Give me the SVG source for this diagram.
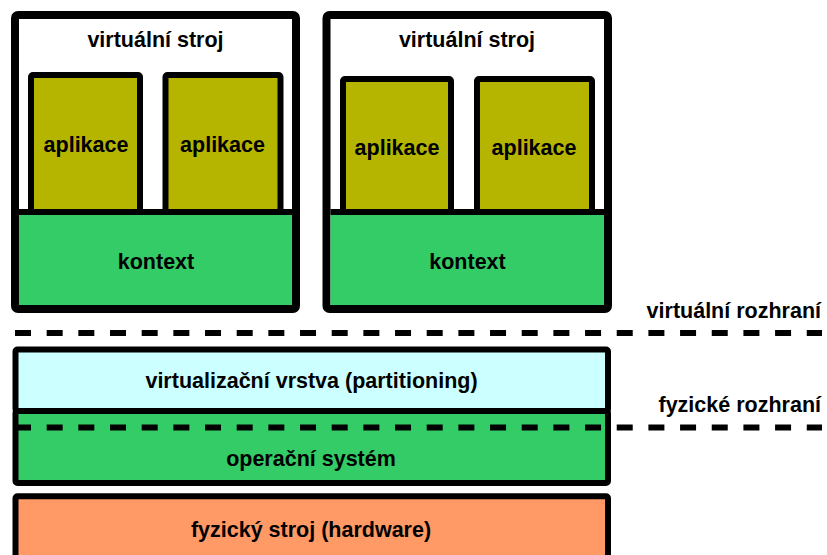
<svg xmlns="http://www.w3.org/2000/svg" width="827" height="555" viewBox="0 0 827 555">
  <style>
    text { font-family: "Liberation Sans", Arial, sans-serif; font-weight: bold; font-size: 21.5px; fill: #000; }
    .mid { text-anchor: middle; }
    .end { text-anchor: end; }
    .vm { fill: #fff; stroke: #000; stroke-width: 8; }
    .app { fill: #B5B500; stroke: #000; stroke-width: 6; }
    .ctx { fill: #33CC66; }
    .sep { stroke: #000; stroke-width: 6; }
    .layer { stroke: #000; stroke-width: 6; }
    .iface { stroke: #000; stroke-width: 6; stroke-dasharray: 16 15.67; fill: none; }
  </style>

  <!-- virtual machine 1 -->
  <g id="vm1">
    <rect class="vm" x="15" y="15" width="281" height="294" rx="3"/>
    <text class="mid" x="155.5" y="47">virtuální stroj</text>
    <g id="vm1-app1">
      <rect class="app" x="31" y="75" width="109" height="137" rx="2"/>
      <text class="mid" x="86" y="152">aplikace</text>
    </g>
    <g id="vm1-app2">
      <rect class="app" x="165.5" y="75" width="115" height="137" rx="2"/>
      <text class="mid" x="222.5" y="152">aplikace</text>
    </g>
    <g id="vm1-ctx">
      <rect class="ctx" x="19" y="212" width="273" height="93"/>
      <line class="sep" x1="19" y1="212" x2="292" y2="212"/>
      <text class="mid" x="156" y="269">kontext</text>
    </g>
  </g>

  <!-- virtual machine 2 -->
  <g id="vm2">
    <rect class="vm" x="326.5" y="15" width="281.5" height="294" rx="3"/>
    <text class="mid" x="467" y="47">virtuální stroj</text>
    <g id="vm2-app1">
      <rect class="app" x="343" y="79" width="108" height="133" rx="2"/>
      <text class="mid" x="397" y="155">aplikace</text>
    </g>
    <g id="vm2-app2">
      <rect class="app" x="477" y="79" width="115" height="133" rx="2"/>
      <text class="mid" x="534" y="155">aplikace</text>
    </g>
    <g id="vm2-ctx">
      <rect class="ctx" x="330.5" y="212" width="273.5" height="93"/>
      <line class="sep" x1="330.5" y1="212" x2="604" y2="212"/>
      <text class="mid" x="467.5" y="269">kontext</text>
    </g>
  </g>

  <!-- host layers -->
  <g id="virtualization">
    <rect class="layer" x="15.5" y="349.5" width="592.5" height="61.5" rx="2" fill="#CCFFFF"/>
    <text class="mid" x="311.5" y="388">virtualizační vrstva (partitioning)</text>
  </g>
  <g id="os">
    <rect class="layer" x="15.5" y="411" width="592.5" height="72" rx="2" fill="#33CC66"/>
    <text class="mid" x="311" y="466">operační systém</text>
  </g>
  <g id="hardware">
    <rect class="layer" x="15.5" y="496.3" width="592.5" height="80" rx="2" fill="#FF9966"/>
    <text class="mid" x="311" y="537">fyzický stroj (hardware)</text>
  </g>

  <!-- interface boundaries -->
  <g id="interfaces">
    <line class="iface" x1="15" y1="333" x2="822" y2="333"/>
    <line class="iface" x1="15" y1="427.5" x2="822" y2="427.5"/>
    <text class="end" x="821" y="318">virtuální rozhraní</text>
    <text class="end" x="821" y="411.5">fyzické rozhraní</text>
  </g>
</svg>
